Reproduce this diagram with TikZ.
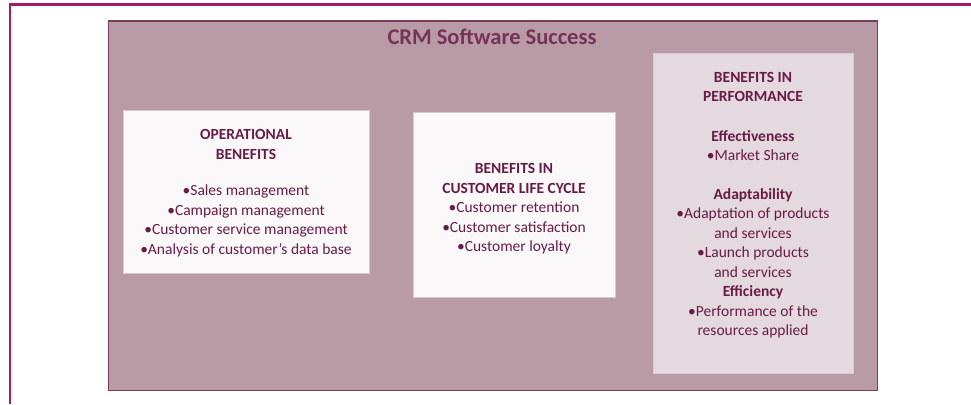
\documentclass[tikz,border=0pt]{standalone}
\usepackage{fontspec}
\setmainfont{Carlito}

\definecolor{rule}{RGB}{160,28,100}
\definecolor{mauve}{RGB}{185,155,166}
\definecolor{mauveline}{RGB}{122,62,92}
\definecolor{lilac}{RGB}{228,217,222}
\definecolor{paper}{RGB}{250,248,249}
\definecolor{panelline}{RGB}{214,203,208}
\definecolor{ink}{RGB}{104,28,68}

\begin{document}
\begin{tikzpicture}[x=1pt,y=-1pt]
    \tikzstyle{panel}=[draw=panelline,line width=0.8pt,fill=paper,inner sep=0pt]
    \tikzstyle{paneltext}=[text=ink,align=center,inner sep=0pt,font=\fontsize{15.5}{19.5}\selectfont]
    \useasboundingbox (0,0) rectangle (971,404);

    % page rules
    \draw[rule,line width=2.2pt] (10,404) -- (10,4.5) -- (971,4.5);

    % outer frame
    \node[draw=mauveline,line width=1.2pt,fill=mauve,minimum width=769pt,minimum height=369pt,anchor=north west] (frame) at (107.5,20.5) {};
    \node[text=ink!90!white,font=\fontsize{22.5}{26}\selectfont\bfseries] (title) at (492,37) {CRM Software Success};

    % the three panels
    \node[panel,minimum width=246pt,minimum height=163pt,anchor=north west] (ops) at (123,110) {};
    \node[panel,minimum width=202pt,minimum height=185pt,anchor=north west] (life) at (413,112) {};
    \node[panel,fill=lilac,minimum width=200pt,minimum height=320pt,anchor=north west] (perf) at (653,53) {};

    \node[paneltext] (ops-text) at (246,193) {\textbf{OPERATIONAL}\\ \textbf{BENEFITS}\\[17pt]
        •Sales management\\ •Campaign management\\ •Customer service management\\ •Analysis of customer’s data base};
    \node[paneltext] (life-text) at (514,209) {\textbf{BENEFITS IN}\\ \textbf{CUSTOMER LIFE CYCLE}\\
        •Customer retention\\ •Customer satisfaction\\ •Customer loyalty};
    \node[paneltext] (perf-text) at (753,205) {\textbf{BENEFITS IN}\\ \textbf{PERFORMANCE}\\[20pt]
        \textbf{Effectiveness}\\ •Market Share\\[19pt]
        \textbf{Adaptability}\\ •Adaptation of products\\ and services\\ •Launch products\\ and services\\
        \textbf{Efficiency}\\ •Performance of the\\ resources applied};
\end{tikzpicture}
\end{document}
